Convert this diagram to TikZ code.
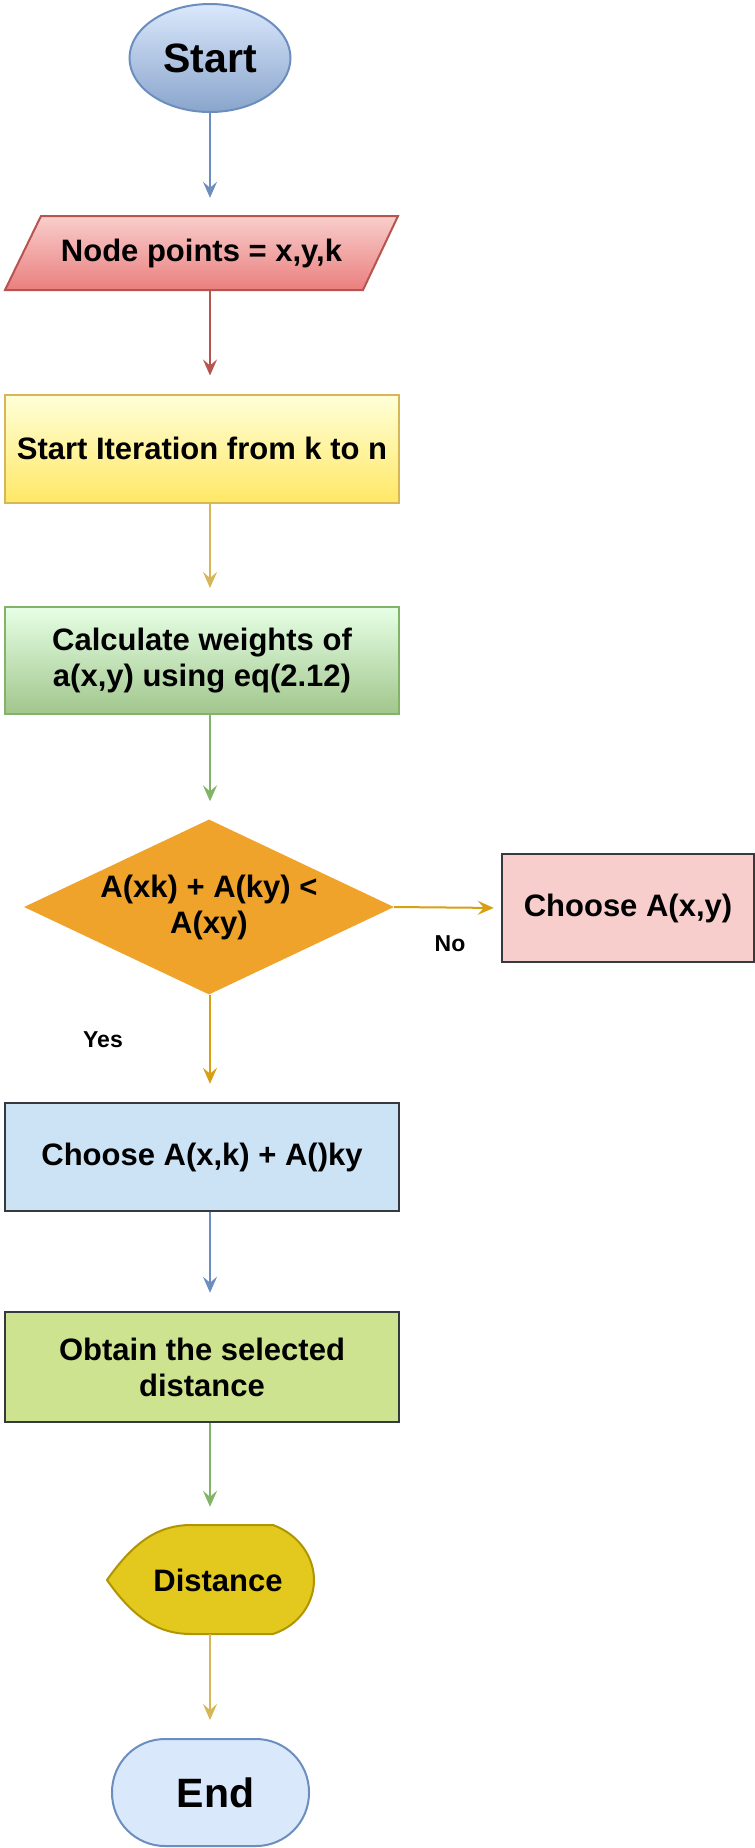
\documentclass[tikz,border=0pt]{standalone}
\usepackage{fontspec}
\setmainfont{Liberation Sans}
\usetikzlibrary{arrows.meta,shapes.geometric}
\definecolor{bstroke}{HTML}{6C8EBF}
\definecolor{rstroke}{HTML}{B85450}
\definecolor{ystroke}{HTML}{D6B656}
\definecolor{gstroke}{HTML}{82B366}
\definecolor{ostroke}{HTML}{D79B00}
\definecolor{dstroke}{HTML}{36393D}
\definecolor{decfill}{HTML}{F0A32A}
\definecolor{pinkfill}{HTML}{F8CECC}
\definecolor{bluefill}{HTML}{CCE3F5}
\definecolor{limefill}{HTML}{CDE38F}
\definecolor{distfill}{HTML}{E3C81E}
\definecolor{diststroke}{HTML}{B09500}
\definecolor{endfill}{HTML}{DAE8FC}
\begin{document}
\begin{tikzpicture}[x=1pt,y=-1pt,
  txt/.style={font=\fontsize{31}{36}\selectfont\bfseries,align=center,inner sep=0pt},
  box/.style={txt,draw,line width=2pt,minimum width=394pt,minimum height=108pt},
  arr/.style={line width=2pt,-{Stealth[length=16pt,width=14pt,inset=6pt]},shorten >=18pt},
  small/.style={font=\fontsize{23}{26}\selectfont\bfseries,inner sep=0pt}]
\useasboundingbox (0,0) rectangle (755,1848);
% Start
\node[ellipse,draw=bstroke,line width=2pt,top color=endfill,bottom color=bstroke!80!white,
  minimum width=161pt,minimum height=108pt,inner sep=0pt,font=\fontsize{41}{46}\selectfont\bfseries] (start) at (210,58) {Start};
% parallelogram
\path[draw=rstroke,line width=2pt,top color=pinkfill,bottom color=rstroke!50!red!60!white]
  (41,216) -- (398,216) -- (363,290) -- (5,290) -- cycle;
\node[txt,minimum width=392pt,minimum height=74pt] (np) at (201.5,253) {Node points = x,y,k};
% yellow
\node[box,draw=ystroke,top color=yellow!15!white,bottom color=yellow!70!orange!60!white] (iter) at (202,448.5) {Start Iteration from k to n};
% green
\node[box,draw=gstroke,minimum height=107pt,top color=green!10!white,bottom color=gstroke!75!white] (calc) at (202,660.5) {Calculate weights of\\a(x,y) using eq(2.12)};
% decision
\node[diamond,fill=decfill,minimum width=370pt,minimum height=175pt,txt,aspect=2.1] (dec) at (209,907) {A(xk) + A(ky) <\\A(xy)};
% pink
\node[txt,draw=dstroke,line width=2.5pt,fill=pinkfill,minimum width=252pt,minimum height=108pt] (pink) at (628,908) {Choose A(x,y)};
% blue
\node[box,draw=dstroke,line width=2.5pt,fill=bluefill] (blue) at (202,1157) {Choose A(x,k) + A()ky};
% lime
\node[box,draw=dstroke,line width=2.5pt,fill=limefill,minimum height=110pt] (lime) at (202,1367) {Obtain the selected\\distance};
% distance display
\path[draw=diststroke,line width=2pt,fill=distfill]
  (107,1580) .. controls (135,1540) and (160,1525) .. (191,1525) -- (273,1525)
  .. controls (300,1535) and (314,1558) .. (314,1580)
  .. controls (314,1602) and (300,1625) .. (273,1634) -- (191,1634)
  .. controls (160,1634) and (135,1620) .. (107,1580) -- cycle;
\node[minimum width=207pt,minimum height=109pt,inner sep=0pt] (dist) at (210.5,1579.5) {};
\node[txt] (disttext) at (218,1580) {Distance};
% End
\node[draw=bstroke,line width=2pt,fill=endfill,rounded corners=53pt,minimum width=197pt,minimum height=107pt,
  inner sep=0pt,font=\fontsize{41}{46}\selectfont\bfseries] (endn) at (210.5,1792.5) {\hspace{10pt}End};
% arrows
\draw[arr,bstroke] (start.south) -- (start.south |- np.north);
\draw[arr,rstroke] (start.south |- np.south) -- (start.south |- iter.north);
\draw[arr,ystroke] (start.south |- iter.south) -- (start.south |- calc.north);
\draw[arr,gstroke] (start.south |- calc.south) -- (start.south |- dec.north);
\draw[arr,ostroke!80!ystroke,shorten >=7pt] (dec.east) -- (pink.west);
\draw[arr,ostroke!80!ystroke] (start.south |- dec.south) -- (start.south |- blue.north);
\draw[arr,bstroke] (start.south |- blue.south) -- (start.south |- lime.north);
\draw[arr,gstroke] (start.south |- lime.south) -- (start.south |- dist.north);
\draw[arr,ystroke] (start.south |- dist.south) -- (start.south |- endn.north);
\node[small] (no) at (450,944) {No};
\node[small] (yes) at (103,1040) {Yes};
\end{tikzpicture}
\end{document}
